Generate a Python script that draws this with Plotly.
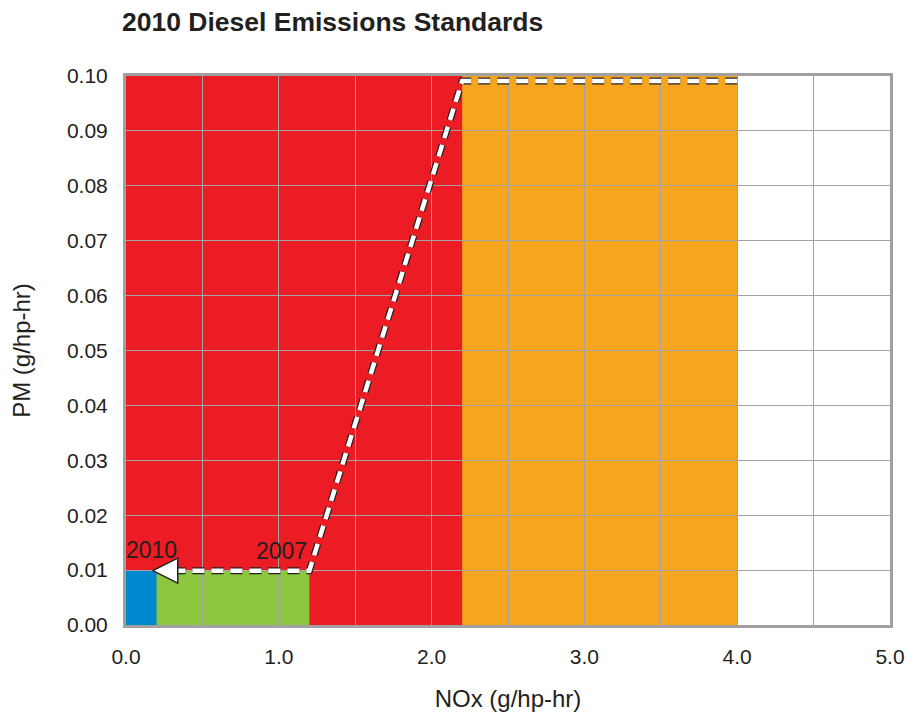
import plotly.graph_objects as go

# Emission standards (larger/older first so newer ones draw on top)
standards = ["1998", "2002", "2007", "2010"]
nox_limits = [4.0, 2.2, 1.2, 0.2]
pm_limits = [0.1, 0.1, 0.01, 0.01]
colors = ["#F7A51E", "#EC1C24", "#8DC63F", "#0088CF"]

# Dashed progression path
path_nox = [4.0, 2.2, 1.2, 0.3]
path_pm = [0.0991, 0.0991, 0.0099, 0.0099]
arrow_nox = [0.175]
arrow_pm = [0.0099]

# Year labels
label_text = ["1998", "2002", "2007", "2010"]
label_nox = [3.97, 2.17, 1.02, 0.17]
label_pm = [0.1025, 0.1028, 0.0135, 0.0137]

x_ticks = [0.0, 0.5, 1.0, 1.5, 2.0, 2.5, 3.0, 3.5, 4.0, 4.5, 5.0]
x_ticktext = ["0.0", "", "1.0", "", "2.0", "", "3.0", "", "4.0", "", "5.0"]

FONT = "Liberation Sans, Arial, Helvetica, sans-serif"
TXT = "#231F20"

fig = go.Figure()

shapes = []
for nx, pm, c in zip(nox_limits, pm_limits, colors):
    shapes.append(dict(type="rect", xref="x", yref="y", x0=0, x1=nx, y0=0, y1=pm,
                       fillcolor=c, line=dict(width=0), layer="below"))

# dashed line outline + white dashes
fig.add_trace(go.Scatter(x=path_nox, y=path_pm, mode="lines",
                         line=dict(color="#222222", width=7, dash="12px,7px"),
                         hoverinfo="skip", showlegend=False))
fig.add_trace(go.Scatter(x=path_nox, y=path_pm, mode="lines",
                         line=dict(color="white", width=4.5, dash="12px,7px"),
                         hoverinfo="skip", showlegend=False))
fig.add_trace(go.Scatter(x=arrow_nox, y=arrow_pm, mode="markers",
                         marker=dict(symbol="arrow-left", size=25, color="white",
                                     line=dict(color="#222222", width=1.5)),
                         hoverinfo="skip", showlegend=False))

for t, x, y in zip(label_text, label_nox, label_pm):
    fig.add_annotation(x=x, y=y, text=t, showarrow=False, xref="x", yref="y",
                       font=dict(family=FONT, size=23, color=TXT))

fig.update_layout(
    width=917, height=712,
    margin=dict(l=126, r=27, t=76, b=87, autoexpand=False),
    paper_bgcolor="white", plot_bgcolor="white",
    shapes=shapes,
    font=dict(family=FONT, size=21, color=TXT),
    title=dict(text="<b>2010 Diesel Emissions Standards</b>", x=122/917, xanchor="left",
               y=1-22/712, yanchor="middle", xref="container", yref="container",
               font=dict(family=FONT, size=26.5, color=TXT)),
    xaxis=dict(range=[0, 5], tickvals=x_ticks, ticktext=x_ticktext,
               showgrid=True, gridcolor="#A3A3A3", gridwidth=1,
               showline=True, linecolor="#A0A0A0", linewidth=3, mirror=True,
               ticks="", ticklabelstandoff=11, zeroline=False, automargin=False,
               title=dict(text="NOx (g/hp-hr)", standoff=28,
                          font=dict(family=FONT, size=24, color=TXT)),
               tickfont=dict(family=FONT, size=21, color=TXT)),
    yaxis=dict(range=[0, 0.1], dtick=0.01, tickformat=".2f",
               showgrid=True, gridcolor="#A3A3A3", gridwidth=1,
               showline=True, linecolor="#A0A0A0", linewidth=3, mirror=True,
               ticks="", ticklabelstandoff=11, zeroline=False, automargin=False,
               title=dict(text="PM (g/hp-hr)", standoff=30,
                          font=dict(family=FONT, size=24, color=TXT)),
               tickfont=dict(family=FONT, size=21, color=TXT)),
)

fig.write_html("out.html", config={"displayModeBar": False},
               post_script="document.body.style.margin='0';document.body.style.overflow='hidden';")
